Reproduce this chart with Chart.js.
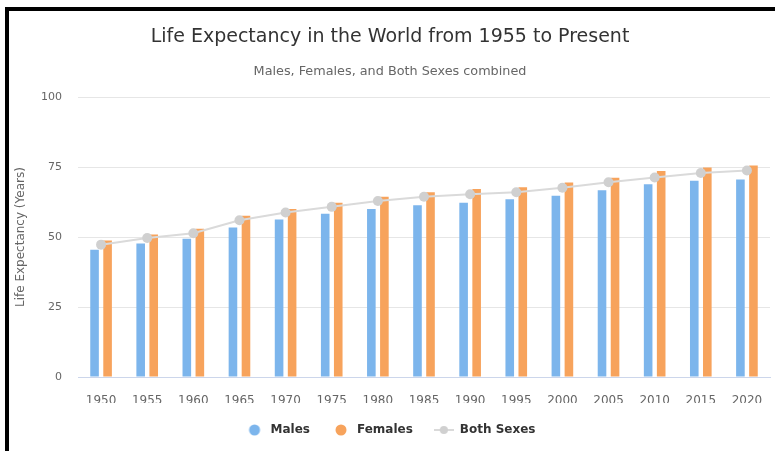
<!DOCTYPE html>
<html>
<head>
<meta charset="utf-8">
<title>Life Expectancy in the World</title>
<script src="https://cdn.jsdelivr.net/npm/chart.js@4/dist/chart.umd.min.js"></script>
<style>
  html, body { margin: 0; padding: 0; background: #fff; }
  #wrap { position: relative; width: 775px; height: 451px; }
  #frame {
    position: absolute; left: 5px; top: 7px; right: 0; bottom: 0;
    border-top: 4px solid #000; border-left: 4px solid #000;
    pointer-events: none;
  }
</style>
</head>
<body>
<div id="wrap">
  <canvas id="lifeChart" width="775" height="451"></canvas>
  <div id="frame"></div>
</div>
<script>
// === DATA ===
var YEARS   = ['1950', '1955', '1960', '1965', '1970', '1975', '1980', '1985',
               '1990', '1995', '2000', '2005', '2010', '2015', '2020'];
var MALES   = [45.5, 47.7, 49.4, 53.4, 56.3, 58.3, 60.0, 61.4, 62.3, 63.5, 64.8, 66.7, 68.9, 70.1, 70.6];
var FEMALES = [48.8, 50.9, 53.0, 57.6, 60.0, 62.3, 64.4, 66.0, 67.2, 67.8, 69.5, 71.2, 73.6, 74.9, 75.6];
var BOTH    = [47.3, 49.7, 51.4, 56.0, 58.8, 60.8, 62.9, 64.4, 65.3, 66.0, 67.6, 69.6, 71.3, 72.9, 73.8];
var Y_TICKS = [0, 25, 50, 75, 100];

(function () {
  'use strict';

  var FONT_FAMILY = '"DejaVu Sans", Verdana, sans-serif';
  var BLUE   = '#7cb5ec';
  var ORANGE = '#f7a35c';
  var GREY_LINE  = '#dadada';
  var GREY_POINT = '#d0d0d0';

  // legend symbols: all the same box so text offsets stay even
  function legendIcon(kind, color) {
    var c = document.createElement('canvas');
    c.width = 20; c.height = 12;
    var g = c.getContext('2d');
    if (kind === 'line') {
      g.strokeStyle = GREY_LINE;
      g.lineWidth = 2;
      g.beginPath(); g.moveTo(0, 6); g.lineTo(20, 6); g.stroke();
      g.fillStyle = GREY_POINT;
      g.beginPath(); g.arc(10, 6, 4, 0, Math.PI * 2); g.fill();
    } else {
      g.fillStyle = color;
      g.beginPath(); g.arc(10, 6, 5.5, 0, Math.PI * 2); g.fill();
    }
    return c;
  }
  var ICONS = [legendIcon('dot', BLUE), legendIcon('dot', ORANGE), legendIcon('line')];

  var ctx = document.getElementById('lifeChart').getContext('2d');
  new Chart(ctx, {
    type: 'bar',
    data: {
      labels: YEARS,
      datasets: [
        {
          label: 'Males',
          data: MALES,
          backgroundColor: BLUE,
          categoryPercentage: 0.565,
          barPercentage: 0.66,
          order: 1,
        },
        {
          label: 'Females',
          data: FEMALES,
          backgroundColor: ORANGE,
          categoryPercentage: 0.565,
          barPercentage: 0.66,
          order: 1,
        },
        {
          type: 'line',
          label: 'Both Sexes',
          data: BOTH,
          borderColor: GREY_LINE,
          backgroundColor: GREY_POINT,
          borderWidth: 2,
          pointRadius: 5,
          pointBackgroundColor: GREY_POINT,
          pointBorderWidth: 0,
          tension: 0,
          fill: false,
          order: 0,
        },
      ],
    },
    options: {
      responsive: false,
      animation: false,
      layout: { padding: { top: 0, left: 10, right: 5, bottom: 5 } },
      plugins: {
        title: {
          display: true,
          text: 'Life Expectancy in the World from 1955 to Present',
          color: '#333333',
          font: { family: FONT_FAMILY, size: 19, weight: 'normal' },
          padding: { top: 26, bottom: 0 },
        },
        subtitle: {
          display: true,
          text: 'Males, Females, and Both Sexes combined',
          color: '#666666',
          font: { family: FONT_FAMILY, size: 12.8 },
          padding: { top: 15, bottom: 18 },
        },
        legend: {
          position: 'bottom',
          labels: {
            color: '#333333',
            font: { family: FONT_FAMILY, size: 12, weight: 'bold' },
            usePointStyle: true,
            pointStyleWidth: 20,
            boxHeight: 12,
            padding: 21,
            sort: function (a, b) { return a.datasetIndex - b.datasetIndex; },
            generateLabels: function (chart) {
              var items = Chart.defaults.plugins.legend.labels.generateLabels(chart);
              items.forEach(function (it) { it.pointStyle = ICONS[it.datasetIndex]; });
              return items;
            },
          },
        },
        tooltip: { enabled: false },
      },
      scales: {
        x: {
          grid: { display: false },
          border: { display: true, color: '#ccd6eb', width: 1 },
          ticks: {
            color: '#666666',
            font: { family: FONT_FAMILY, size: 12 },
            padding: 9,
            maxRotation: 0,
          },
          afterFit: function (s) { s.height = 26; },
        },
        y: {
          min: 0,
          max: 100,
          border: { display: false },
          grid: { color: '#e6e6e6', drawTicks: false },
          afterBuildTicks: function (s) {
            s.ticks = Y_TICKS.map(function (v) { return { value: v }; });
          },
          afterFit: function (s) { s.width = 68; },
          ticks: {
            color: '#666666',
            font: { family: FONT_FAMILY, size: 11 },
            padding: 16,
          },
          title: {
            display: true,
            text: 'Life Expectancy (Years)',
            color: '#666666',
            font: { family: FONT_FAMILY, size: 12 },
            padding: { top: 4, bottom: 4 },
          },
        },
      },
    },
  });
}());
</script>
</body>
</html>
